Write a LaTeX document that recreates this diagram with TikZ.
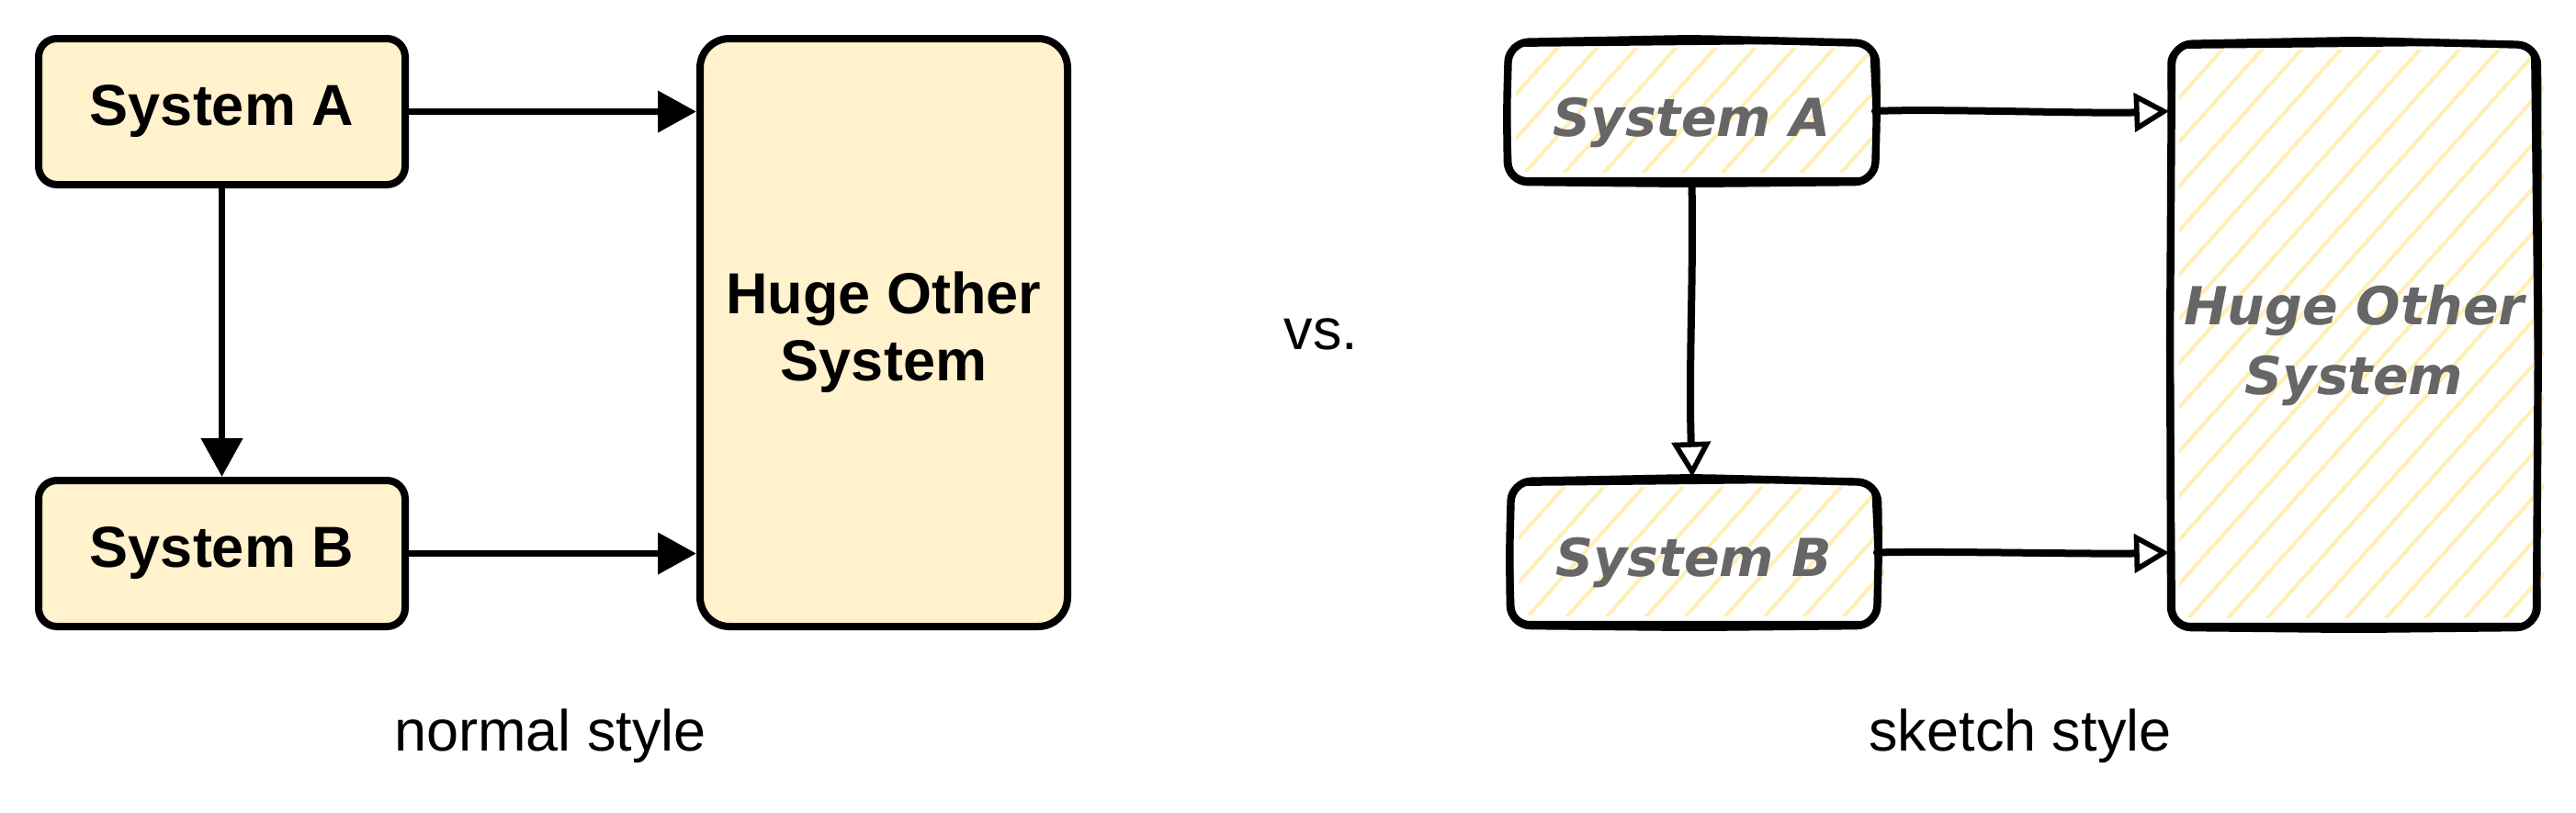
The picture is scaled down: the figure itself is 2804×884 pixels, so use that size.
\documentclass[tikz,border=0pt]{standalone}
\usepackage{fontspec}
\setmainfont{Liberation Sans}
\newfontfamily\skfont{DejaVu Sans Bold Oblique}
\usetikzlibrary{arrows.meta,calc}
\definecolor{boxfill}{HTML}{FFF2CC}
\definecolor{hatchc}{HTML}{FFEFB5}
\definecolor{skgray}{HTML}{666666}
\pgfdeclarelayer{background}
\pgfsetlayers{background,main}
\tikzset{
  plainbox/.style={draw=black, line width=4pt, fill=boxfill, rounded corners=10pt,
    font=\bfseries\fontsize{31.5}{36.5}\selectfont, align=center, inner sep=0pt},
  skbox/.style={draw=none, inner sep=0pt, align=center, text=skgray,
    font=\skfont\fontsize{28.5}{38}\selectfont},
  parrow/.style={line width=3.8pt, -{Triangle[length=21pt, width=22pt]}},
  sarrow/.style={line width=4pt, line cap=round,
    -{Triangle[open, length=19pt, width=21pt, line width=2.8pt, fill=white]}},
  hatchline/.style={hatchc, line width=2pt, line cap=round},
  skline/.style={black, line width=4.2pt, line cap=round, line join=round},
  skline2/.style={black, line width=2pt, line cap=round, line join=round},
  lbl/.style={font=\fontsize{31.5}{36.5}\selectfont, inner sep=0pt}
}
\newcommand\hatchfill[1]{%
  \begin{pgfonlayer}{background}
  \begin{scope}
    \clip[rounded corners=8pt] ($(#1.north west)+(8,8)$) rectangle ($(#1.south east)+(8,-10)$);
    \foreach \k in {-16,...,11}
      \draw[hatchline] ($(#1.south west)+(\k*43,10)$) -- ++(620,-694);
  \end{scope}
  \end{pgfonlayer}}
\newcommand\roughbox[1]{%
  \draw[skline, rounded corners=11pt]
    ($(#1.north west)+(0,2)$) -- ($(#1.north)+(0,-2)$) -- ($(#1.north east)+(1,3)$)
    -- ($(#1.east)+(2,0)$) -- ($(#1.south east)+(0,0)$) -- ($(#1.south)+(0,2)$)
    -- ($(#1.south west)+(-1,0)$) -- ($(#1.west)+(-2,0)$) -- cycle;
  \draw[skline2, rounded corners=9pt]
    ($(#1.north west)+(-3,5)$) -- ($(#1.north east)+(-4,1)$)
    -- ($(#1.south east)+(3,-3)$) -- ($(#1.south west)+(2,-3)$) -- cycle;}
\begin{document}
\begin{tikzpicture}[x=0.5pt, y=-0.5pt]
\useasboundingbox (0,0) rectangle (2804,884);
% ---------------- normal style ----------------
\node[plainbox, minimum width=199.5pt, minimum height=79.5pt] (sysA) at (241.5,121.5) {System A};
\node[plainbox, minimum width=199.5pt, minimum height=79.5pt] (sysB) at (241.5,602.5) {System B};
\node[plainbox, minimum width=200pt, minimum height=320pt, rounded corners=16pt] (huge) at (962,362) {Huge Other\\System};
\draw[parrow] (sysA.east) -- (sysA.east -| huge.west);
\draw[parrow] (sysB.east) -- (sysB.east -| huge.west);
\draw[parrow] (sysA.south) -- (sysB.north);
% ---------------- labels ----------------
\node[lbl, anchor=base] (vs) at (1438,380) {vs.};
\node[lbl, anchor=base] (normal) at (599,817) {normal style};
\node[lbl, anchor=base] (sketch) at (2199,817) {sketch style};
% ---------------- sketch style ----------------
\node[skbox, minimum width=199pt, minimum height=76.5pt] (skA) at (1841.5,121)
  {\raisebox{-13.5pt}[0pt][0pt]{System A}};
\node[skbox, minimum width=198.5pt, minimum height=79pt] (skB) at (1844,601.5)
  {\raisebox{-13pt}[0pt][0pt]{System B}};
\node[skbox, minimum width=198pt, minimum height=318pt] (skH) at (2562.5,364.5)
  {\raisebox{-32.5pt}[0pt][0pt]{\begin{tabular}[b]{@{}c@{}}Huge Other\\System\end{tabular}}};
\hatchfill{skA}
\hatchfill{skB}
\hatchfill{skH}
\roughbox{skA}
\roughbox{skB}
\roughbox{skH}
\draw[sarrow] (skA.east) .. controls +(60,-3) and +(-80,3) .. ($(skA.east -| skH.west)+(-3,0)$);
\draw[sarrow] (skB.east) .. controls +(60,-2) and +(-80,2) .. ($(skB.east -| skH.west)+(-3,0)$);
\draw[sarrow] (skA.south) .. controls +(2,110) and +(-4,-120) .. ($(skB.north)+(-2,-3)$);
\end{tikzpicture}
\end{document}
